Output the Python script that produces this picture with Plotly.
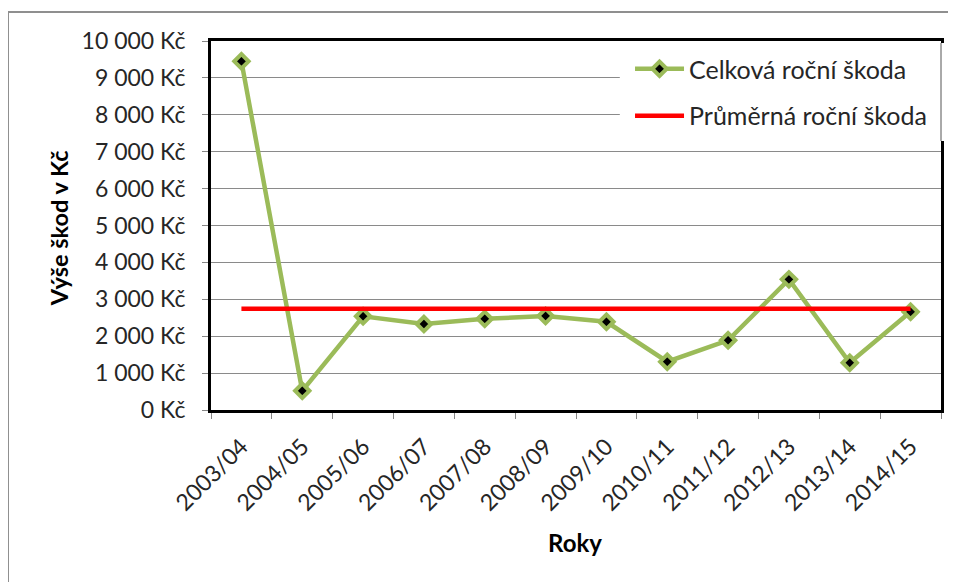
import plotly.graph_objects as go

# ---- data ----
years = ["2003/04", "2004/05", "2005/06", "2006/07", "2007/08", "2008/09",
         "2009/10", "2010/11", "2011/12", "2012/13", "2013/14", "2014/15"]
total_damage = [9450, 520, 2540, 2330, 2470, 2550, 2390, 1310, 1890, 3540, 1280, 2660]
average_damage = [2744] * 12
y_tick_values = [0, 1000, 2000, 3000, 4000, 5000, 6000, 7000, 8000, 9000, 10000]
y_tick_labels = ["0 Kč", "1 000 Kč", "2 000 Kč", "3 000 Kč", "4 000 Kč", "5 000 Kč",
                 "6 000 Kč", "7 000 Kč", "8 000 Kč", "9 000 Kč", "10 000 Kč"]

FONT = "Lato"
TXT = "#262626"
GREEN = "#9BBB59"

fig = go.Figure()
fig.add_trace(go.Scatter(
    x=years, y=total_damage, mode="lines+markers", name="Celková roční škoda",
    line=dict(color=GREEN, width=4.5),
    marker=dict(symbol="diamond", size=11, color="black", line=dict(color=GREEN, width=4)),
    legend="legend",
))
fig.add_trace(go.Scatter(
    x=years, y=average_damage, mode="lines", name="Průměrná roční škoda",
    line=dict(color="#FF0000", width=4.5),
    legend="legend2",
))

fig.update_layout(
    width=948, height=574,
    margin=dict(l=203, r=15, t=33, b=172),
    paper_bgcolor="white", plot_bgcolor="white",
    font=dict(family=FONT, color=TXT),
    showlegend=True,
    legend=dict(x=0.574, y=0.924, xanchor="left", yanchor="middle",
                bgcolor="rgba(0,0,0,0)", font=dict(size=25, family=FONT, color=TXT),
                itemwidth=49),
    legend2=dict(x=0.574, y=0.797, xanchor="left", yanchor="middle",
                 bgcolor="rgba(0,0,0,0)", font=dict(size=25, family=FONT, color=TXT),
                 itemwidth=49),
    xaxis=dict(
        type="category", range=[-0.5, 11.5],
        showline=True, linecolor="black", linewidth=3, mirror=True,
        ticks="outside", tickson="boundaries", ticklen=6, tickcolor="#868686",
        tickangle=-45, showgrid=False,
        tickfont=dict(size=23, family=FONT, color=TXT),
        ticklabelstandoff=11,
    ),
    yaxis=dict(
        range=[0, 10000], tickvals=y_tick_values, ticktext=y_tick_labels,
        showgrid=True, gridcolor="#8a8a8a", gridwidth=1, zeroline=False,
        showline=True, linecolor="black", linewidth=3, mirror=True,
        ticks="outside", ticklen=6, tickcolor="#868686",
        tickfont=dict(size=23, family=FONT, color=TXT),
        ticklabelstandoff=12,
    ),
    annotations=[
        dict(text="<b>Výše škod v Kč</b>", xref="paper", yref="paper",
             x=-0.208, y=0.493, xanchor="center", yanchor="middle",
             textangle=-90, showarrow=False,
             font=dict(size=23.5, family=FONT, color="black")),
        dict(text="<b>Roky</b>", xref="paper", yref="paper",
             x=0.4986, y=-0.358, xanchor="center", yanchor="middle", showarrow=False,
             font=dict(size=24, family=FONT, color="black")),
    ],
    shapes=[
        # outer chart frame
        dict(type="rect", xref="paper", yref="paper",
             x0=-0.2781, x1=1.03, y0=-0.6, y1=1.0786,
             line=dict(color="#8f8f8f", width=2), fillcolor="rgba(0,0,0,0)", layer="below"),
        # legend box background
        dict(type="rect", xref="paper", yref="paper",
             x0=0.560, x1=1.005, y0=0.729, y1=0.9946,
             line=dict(width=0), fillcolor="white", layer="above"),
        dict(type="line", xref="paper", yref="paper",
             x0=1.0, x1=1.0, y0=0.729, y1=0.9946,
             line=dict(color="#555555", width=1), layer="above"),
    ],
)

fig.write_html("out.html")
